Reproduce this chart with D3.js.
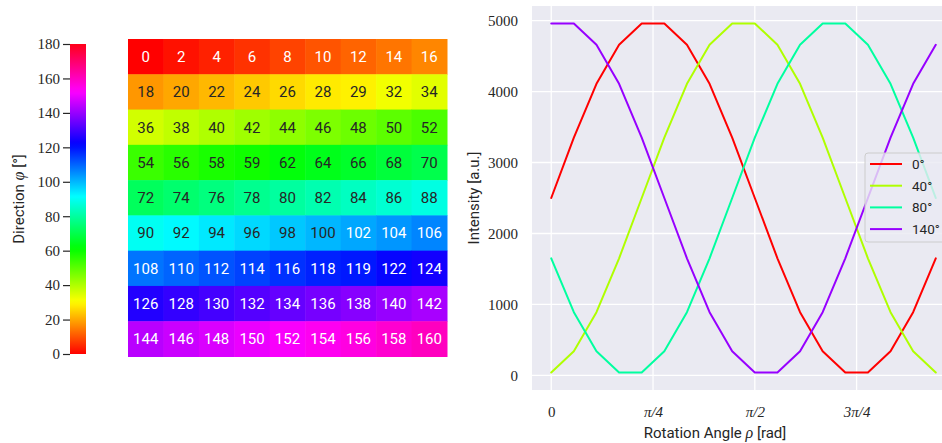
<!DOCTYPE html>
<html>
<head>
<meta charset="utf-8">
<script src="https://cdn.jsdelivr.net/npm/d3@7"></script>
<style>
  html, body { margin: 0; padding: 0; background: #ffffff; }
  svg { display: block; }
</style>
</head>
<body>
<svg id="chart" width="942" height="443"></svg>
<script>
// ---------------- DATA ----------------
const heatmapRows = [
  [0, 2, 4, 6, 8, 10, 12, 14, 16],
  [18, 20, 22, 24, 26, 28, 29, 32, 34],
  [36, 38, 40, 42, 44, 46, 48, 50, 52],
  [54, 56, 58, 59, 62, 64, 66, 68, 70],
  [72, 74, 76, 78, 80, 82, 84, 86, 88],
  [90, 92, 94, 96, 98, 100, 102, 104, 106],
  [108, 110, 112, 114, 116, 118, 119, 122, 124],
  [126, 128, 130, 132, 134, 136, 138, 140, 142],
  [144, 146, 148, 150, 152, 154, 156, 158, 160]
];
const colorbarTicks = [0, 20, 40, 60, 80, 100, 120, 140, 160, 180];
const colorbarDomain = [0, 180];

const rotationDeg = [0, 10, 20, 30, 40, 50, 60, 70, 80, 90, 100, 110, 120, 130, 140, 150, 160, 170];
const seriesDirections = [0, 40, 80, 140];
const seriesLabels = ["0°", "40°", "80°", "140°"];
const intensity0   = [2500, 3350, 4110, 4660, 4960, 4960, 4660, 4110, 3350, 2500, 1650, 890, 340, 40, 40, 340, 890, 1650];
const intensity40  = [40, 340, 890, 1650, 2500, 3350, 4110, 4660, 4960, 4960, 4660, 4110, 3350, 2500, 1650, 890, 340, 40];
const intensity80  = [1650, 890, 340, 40, 40, 340, 890, 1650, 2500, 3350, 4110, 4660, 4960, 4960, 4660, 4110, 3350, 2500];
const intensity140 = [4960, 4960, 4660, 4110, 3350, 2500, 1650, 890, 340, 40, 40, 340, 890, 1650, 2500, 3350, 4110, 4660];
const seriesValues = [intensity0, intensity40, intensity80, intensity140];

const yTicks = [0, 1000, 2000, 3000, 4000, 5000];
const xTickValues = [0, Math.PI / 4, Math.PI / 2, 3 * Math.PI / 4];
const xTickLabels = ["0", "π/4", "π/2", "3π/4"];

// ---------------- matplotlib "hsv" colormap ----------------
const hsvData = {
  r: [[0, 1], [0.158730, 1], [0.174603, 0.96875], [0.333333, 0.03125], [0.349206, 0], [0.666667, 0], [0.682540, 0.03125], [0.841270, 0.96875], [0.857143, 1], [1, 1]],
  g: [[0, 0], [0.158730, 0.9375], [0.174603, 1], [0.507937, 1], [0.666667, 0.0625], [0.682540, 0], [1, 0]],
  b: [[0, 0], [0.333333, 0], [0.349206, 0.0625], [0.507937, 1], [0.841270, 1], [0.857143, 0.9375], [1, 0.09375]]
};
const chan = {};
for (const k of ["r", "g", "b"]) {
  chan[k] = d3.scaleLinear().domain(hsvData[k].map(d => d[0])).range(hsvData[k].map(d => d[1])).clamp(true);
}
function hsvRGB(t) { return [chan.r(t), chan.g(t), chan.b(t)]; }
function hsv(t) {
  const c = hsvRGB(t);
  return d3.rgb(Math.round(c[0] * 255), Math.round(c[1] * 255), Math.round(c[2] * 255)).formatHex();
}
function relLum(t) {
  const c = hsvRGB(t).map(v => v <= 0.03928 ? v / 12.92 : Math.pow((v + 0.055) / 1.055, 2.4));
  return 0.2126 * c[0] + 0.7152 * c[1] + 0.0722 * c[2];
}
const norm = d3.scaleLinear().domain(colorbarDomain).range([0, 1]);

const svg = d3.select("#chart");
const serif = "'Liberation Serif', 'DejaVu Serif', serif";
const sans = "Roboto, 'DejaVu Sans', sans-serif";

function labelWithMath(sel, before, sym, after) {
  sel.append("tspan").text(before);
  sel.append("tspan").attr("font-family", serif).attr("font-style", "italic").attr("font-size", 16).text(sym);
  sel.append("tspan").text(after);
}

// ---------------- Colorbar ----------------
const cb = { x: 70, w: 16, top: 44, bottom: 354 };
const defs = svg.append("defs");
const grad = defs.append("linearGradient").attr("id", "cbgrad")
  .attr("x1", 0).attr("y1", 1).attr("x2", 0).attr("y2", 0);
d3.range(0, 1.0001, 0.005).forEach(t => {
  grad.append("stop").attr("offset", t).attr("stop-color", hsv(t));
});
const cbScale = d3.scaleLinear().domain(colorbarDomain).range([cb.bottom, cb.top]);
svg.append("rect").attr("x", cb.x).attr("y", cb.top).attr("width", cb.w)
  .attr("height", cb.bottom - cb.top).attr("fill", "url(#cbgrad)");
const cbAxis = svg.append("g").attr("transform", `translate(${cb.x},0)`)
  .call(d3.axisLeft(cbScale).tickValues(colorbarTicks).tickSize(7).tickPadding(3));
cbAxis.select(".domain").remove();
cbAxis.selectAll(".tick line").attr("stroke", "#262626").attr("stroke-width", 1.2);
cbAxis.selectAll(".tick text").attr("font-family", serif).attr("font-size", 15).attr("fill", "#262626");
svg.append("text").attr("transform", `translate(24,${(cb.top + cb.bottom) / 2}) rotate(-90)`)
  .attr("text-anchor", "middle").attr("font-family", sans).attr("font-size", 15).attr("fill", "#262626")
  .call(labelWithMath, "Direction ", "φ", " [°]");

// ---------------- Heatmap ----------------
const hm = { left: 128, right: 447, top: 39, bottom: 356.5 };
const nCols = heatmapRows[0].length, nRows = heatmapRows.length;
const xh = d3.scaleBand().domain(d3.range(nCols)).range([hm.left, hm.right]);
const yh = d3.scaleBand().domain(d3.range(nRows)).range([hm.top, hm.bottom]);
const cells = [];
heatmapRows.forEach((row, r) => row.forEach((v, c) => cells.push({ r, c, v })));
const hmG = svg.append("g");
hmG.selectAll("rect").data(cells).join("rect")
  .attr("x", d => xh(d.c)).attr("y", d => yh(d.r))
  .attr("width", xh.bandwidth() + 0.5).attr("height", yh.bandwidth() + 0.5)
  .attr("fill", d => hsv(norm(d.v)));
hmG.selectAll("text").data(cells).join("text")
  .attr("x", d => xh(d.c) + xh.bandwidth() / 2)
  .attr("y", d => yh(d.r) + yh.bandwidth() / 2)
  .attr("dy", "0.36em")
  .attr("text-anchor", "middle")
  .attr("font-family", sans).attr("font-size", 15)
  .attr("fill", d => relLum(norm(d.v)) > 0.408 ? "#262626" : "#ffffff")
  .text(d => d.v);

// ---------------- Line chart ----------------
const rot = rotationDeg.map(d => d * Math.PI / 180);
const lc = { left: 532, right: 955, top: 6, bottom: 390 };
const xExt = d3.extent(rot), xPad = (xExt[1] - xExt[0]) * 0.05;
const allVals = seriesValues.flat();
const yExt = d3.extent(allVals), yPad = (yExt[1] - yExt[0]) * 0.05;
const x = d3.scaleLinear().domain([xExt[0] - xPad, xExt[1] + xPad]).range([lc.left, lc.right]);
const y = d3.scaleLinear().domain([yExt[0] - yPad, yExt[1] + yPad]).range([lc.bottom, lc.top]);

svg.append("rect").attr("x", lc.left).attr("y", lc.top)
  .attr("width", lc.right - lc.left).attr("height", lc.bottom - lc.top).attr("fill", "#eaeaf2");

const gridG = svg.append("g");
gridG.selectAll("line.h").data(yTicks).join("line").attr("class", "h")
  .attr("x1", lc.left).attr("x2", lc.right).attr("y1", d => y(d)).attr("y2", d => y(d))
  .attr("stroke", "#ffffff").attr("stroke-width", 1.3);
gridG.selectAll("line.v").data(xTickValues).join("line").attr("class", "v")
  .attr("y1", lc.top).attr("y2", lc.bottom).attr("x1", d => x(d)).attr("x2", d => x(d))
  .attr("stroke", "#ffffff").attr("stroke-width", 1.3);

const yAxis = svg.append("g").attr("transform", `translate(${lc.left},0)`)
  .call(d3.axisLeft(y).tickValues(yTicks).tickSize(0).tickPadding(14).tickFormat(d3.format("d")));
yAxis.select(".domain").remove();
yAxis.selectAll(".tick text").attr("font-family", serif).attr("font-size", 15).attr("fill", "#262626");

const xAxis = svg.append("g").attr("transform", `translate(0,${lc.bottom})`)
  .call(d3.axisBottom(x).tickValues(xTickValues).tickSize(0).tickPadding(16)
    .tickFormat((d, i) => xTickLabels[i]));
xAxis.select(".domain").remove();
xAxis.selectAll(".tick text").attr("font-family", serif).attr("font-size", 15).attr("fill", "#262626")
  .attr("font-style", (d, i) => i === 0 ? "normal" : "italic");

svg.append("text").attr("x", 715).attr("y", 438).attr("text-anchor", "middle")
  .attr("font-family", sans).attr("font-size", 15).attr("fill", "#262626")
  .call(labelWithMath, "Rotation Angle ", "ρ", " [rad]");
svg.append("text").attr("transform", `translate(479,${(lc.top + lc.bottom) / 2}) rotate(-90)`)
  .attr("text-anchor", "middle").attr("font-family", sans).attr("font-size", 15).attr("fill", "#262626")
  .text("Intensity [a.u.]");

const line = d3.line().x((d, i) => x(rot[i])).y(d => y(d));
svg.append("g").selectAll("path").data(seriesValues).join("path")
  .attr("d", d => line(d))
  .attr("fill", "none")
  .attr("stroke", (d, i) => hsv(norm(seriesDirections[i])))
  .attr("stroke-width", 2)
  .attr("stroke-linejoin", "round")
  .attr("stroke-linecap", "round");

// Legend
const lg = { x: 865, y: 153, w: 90, h: 89 };
svg.append("rect").attr("x", lg.x).attr("y", lg.y).attr("width", lg.w).attr("height", lg.h)
  .attr("rx", 3).attr("fill", "#eaeaf2").attr("fill-opacity", 0.8)
  .attr("stroke", "#cccccc").attr("stroke-width", 1);
const legItems = svg.append("g").selectAll("g").data(seriesLabels).join("g")
  .attr("transform", (d, i) => `translate(${lg.x + 5},${lg.y + 11 + i * 21.7})`);
legItems.append("line").attr("x1", 0).attr("x2", 32).attr("y1", 0).attr("y2", 0)
  .attr("stroke", (d, i) => hsv(norm(seriesDirections[i]))).attr("stroke-width", 2);
legItems.append("text").attr("x", 42).attr("y", 0).attr("dy", "0.36em")
  .attr("font-family", sans).attr("font-size", 13.5).attr("fill", "#262626")
  .text(d => d);
</script>
</body>
</html>
